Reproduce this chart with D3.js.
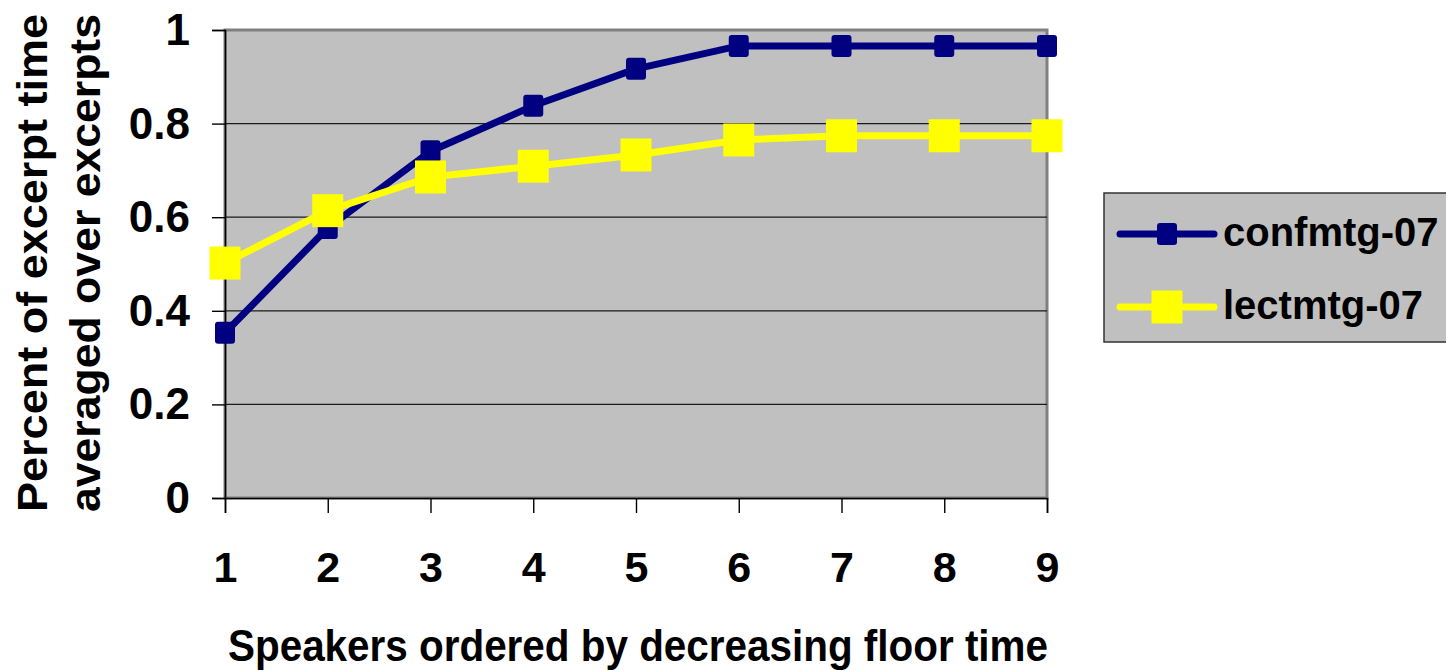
<!DOCTYPE html>
<html>
<head>
<meta charset="utf-8">
<script src="https://cdn.jsdelivr.net/npm/d3@7"></script>
<style>
  html, body { margin: 0; padding: 0; background: #ffffff; }
  svg { display: block; font-family: "Liberation Sans", Arial, sans-serif; font-weight: bold; }
</style>
</head>
<body>
<svg id="chart" width="1446" height="671"></svg>
<script>
// Speaker rank (by decreasing floor time)
const categories = [1, 2, 3, 4, 5, 6, 7, 8, 9];
// Average fraction of excerpt time covered by the top-N speakers
const confmtg07 = [0.353, 0.577, 0.741, 0.838, 0.917, 0.966, 0.966, 0.966, 0.966];
const lectmtg07 = [0.502, 0.614, 0.686, 0.709, 0.733, 0.765, 0.774, 0.774, 0.774];
const seriesNames = ["confmtg-07", "lectmtg-07"];
const yTicks = [0, 0.2, 0.4, 0.6, 0.8, 1];
const yTickLabels = ["0", "0.2", "0.4", "0.6", "0.8", "1"];

const svg = d3.select("#chart");
const plot = { left: 225, right: 1047, top: 30, bottom: 498 };

const x = d3.scaleLinear().domain([1, 9]).range([plot.left, plot.right]);
const y = d3.scaleLinear().domain([0, 1]).range([plot.bottom, plot.top]);

// Plot background with grey frame
svg.append("rect")
  .attr("x", plot.left).attr("y", plot.top)
  .attr("width", plot.right - plot.left).attr("height", plot.bottom - plot.top)
  .attr("fill", "#c0c0c0").attr("stroke", "#808080").attr("stroke-width", 3);

// Horizontal gridlines
svg.append("g").selectAll("line")
  .data(yTicks.filter(d => d > 0 && d < 1))
  .join("line")
  .attr("x1", plot.left).attr("x2", plot.right)
  .attr("y1", d => y(d)).attr("y2", d => y(d))
  .attr("stroke", "#1a1a1a").attr("stroke-width", 1.2);

// Y axis
const yAxis = svg.append("g")
  .attr("transform", `translate(${plot.left},0)`)
  .call(d3.axisLeft(y).tickValues(yTicks).tickFormat((d, i) => yTickLabels[i]).tickSize(13).tickPadding(22));
yAxis.select(".domain").attr("stroke", "#000").attr("stroke-width", 1.6);
yAxis.selectAll(".tick line").attr("stroke", "#000").attr("stroke-width", 1.4);
yAxis.selectAll(".tick text")
  .attr("fill", "#000").attr("font-size", 44).attr("font-weight", "bold")
  .attr("font-family", "Liberation Sans, Arial, sans-serif")
  .attr("dy", "0.33em");

// X axis
const xAxis = svg.append("g")
  .attr("transform", `translate(0,${plot.bottom})`)
  .call(d3.axisBottom(x).tickValues(categories).tickFormat(d3.format("d")).tickSize(15).tickPadding(38));
xAxis.select(".domain").attr("stroke", "#000").attr("stroke-width", 1.6);
xAxis.selectAll(".tick line").attr("stroke", "#000").attr("stroke-width", 1.4);
xAxis.selectAll(".tick text")
  .attr("fill", "#000").attr("font-size", 43).attr("font-weight", "bold")
  .attr("font-family", "Liberation Sans, Arial, sans-serif");

// Series
const series = [
  { name: seriesNames[0], values: confmtg07, color: "#000080", width: 7, mw: 20, mh: 22, rx: 3 },
  { name: seriesNames[1], values: lectmtg07, color: "#ffff00", width: 7, mw: 31, mh: 33, rx: 0 }
];

const line = d3.line().x((d, i) => x(categories[i])).y(d => y(d));

series.forEach(s => {
  const g = svg.append("g");
  g.append("path")
    .datum(s.values)
    .attr("d", line)
    .attr("fill", "none")
    .attr("stroke", s.color)
    .attr("stroke-width", s.width)
    .attr("stroke-linejoin", "round");
  g.selectAll("rect")
    .data(s.values)
    .join("rect")
    .attr("x", (d, i) => x(categories[i]) - s.mw / 2)
    .attr("y", d => y(d) - s.mh / 2)
    .attr("width", s.mw).attr("height", s.mh)
    .attr("rx", s.rx)
    .attr("fill", s.color);
});

// Axis titles
svg.append("text")
  .attr("x", (plot.left + plot.right) / 2 + 2)
  .attr("y", 661)
  .attr("text-anchor", "middle")
  .attr("font-size", 44)
  .attr("textLength", 820).attr("lengthAdjust", "spacingAndGlyphs")
  .text("Speakers ordered by decreasing floor time");

const yTitle = ["Percent of excerpt time", "averaged over excerpts"];
yTitle.forEach((t, i) => {
  svg.append("text")
    .attr("transform", `translate(${47 + i * 53},${263}) rotate(-90)`)
    .attr("text-anchor", "middle")
    .attr("font-size", 42)
    .attr("textLength", 498).attr("lengthAdjust", "spacingAndGlyphs")
    .text(t);
});

// Legend
const legend = svg.append("g");
legend.append("rect")
  .attr("x", 1104).attr("y", 193)
  .attr("width", 360).attr("height", 149)
  .attr("fill", "#c0c0c0").attr("stroke", "#333").attr("stroke-width", 1.5);

series.forEach((s, i) => {
  const cy = 234 + i * 73;
  legend.append("line")
    .attr("x1", 1120).attr("x2", 1214)
    .attr("y1", cy).attr("y2", cy)
    .attr("stroke", s.color).attr("stroke-width", s.width)
    .attr("stroke-linecap", "round");
  legend.append("rect")
    .attr("x", 1167 - s.mw / 2).attr("y", cy - s.mh / 2)
    .attr("width", s.mw).attr("height", s.mh)
    .attr("rx", s.rx)
    .attr("fill", s.color);
  legend.append("text")
    .attr("x", 1223).attr("y", cy + 12)
    .attr("font-size", 40)
    .attr("fill", "#000")
    .text(s.name);
});
</script>
</body>
</html>
